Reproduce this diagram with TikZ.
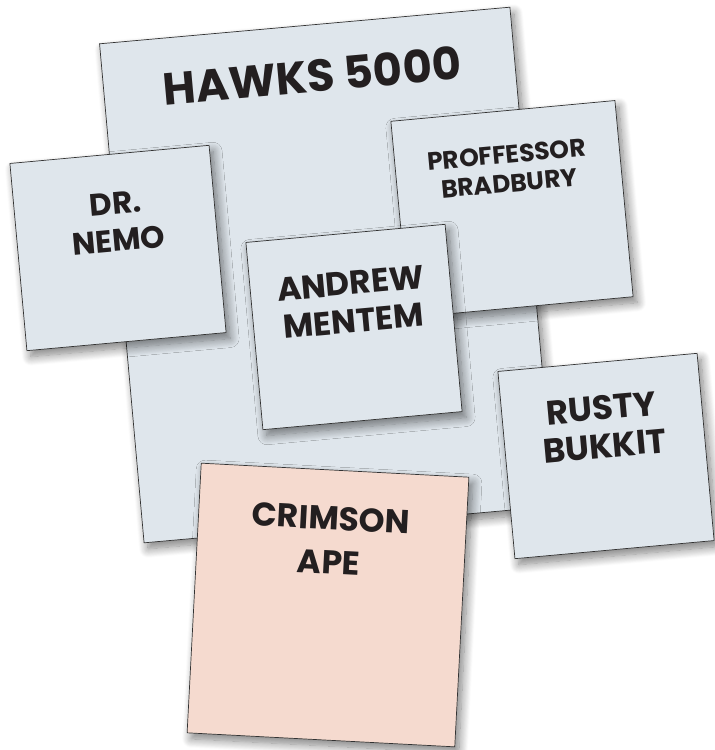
\documentclass[tikz,border=0pt]{standalone}
\usepackage{fontspec}
\setmainfont{Poppins}
\usetikzlibrary{shadows.blur}
\definecolor{sheetblue}{HTML}{DFE6EC}
\definecolor{sheetpink}{HTML}{F5DACF}
\definecolor{sheetline}{HTML}{333333}
\definecolor{ink}{HTML}{231F20}
\tikzset{
  sheet/.style={draw=sheetline, line width=0.7pt, fill=sheetblue, inner sep=0pt,
    blur shadow={shadow xshift=4pt, shadow yshift=-6pt, shadow blur radius=9pt, shadow blur steps=12, shadow opacity=50}},
  pinksheet/.style={sheet, fill=sheetpink},
  lbl/.style={text=ink, align=center, inner sep=0pt, font=\bfseries},
}
\begin{document}
\begin{tikzpicture}[x=1pt,y=-1pt]
\useasboundingbox (0,0) rectangle (715,750);
% sheets
\node[sheet, minimum width=412pt, minimum height=501pt, rotate=5.1] (hawks) at (327,275) {};
\node[sheet, minimum width=200pt, minimum height=188pt, rotate=5.2] (nemo) at (118,248) {};
\node[sheet, minimum width=225pt, minimum height=197pt, rotate=5.3] (prof) at (512,209) {};
\node[sheet, minimum width=200pt, minimum height=188pt, rotate=5.2] (andrew) at (354,327) {};
\node[sheet, minimum width=200pt, minimum height=188pt, rotate=5.2] (rusty) at (606,456) {};
\node[pinksheet, minimum width=268pt, minimum height=270pt, rotate=-3.0] (crimson) at (328,605) {};
% labels
\node[lbl, rotate=5.1, font=\bfseries\fontsize{45}{45}\selectfont] (t-hawks) at (312,76) {HAWKS 5000};
\node[lbl, rotate=5.2, font=\bfseries\fontsize{31}{37}\selectfont] (t-nemo) at (117,222) {DR.\\NEMO};
\node[lbl, rotate=5.3, font=\bfseries\fontsize{25}{29}\selectfont] (t-prof) at (508,169) {PROFFESSOR\\BRADBURY};
\node[lbl, rotate=5.2, font=\bfseries\fontsize{33}{38}\selectfont] (t-andrew) at (352,302) {ANDREW\\MENTEM};
\node[lbl, rotate=5.2, font=\bfseries\fontsize{34}{38}\selectfont] (t-rusty) at (603,427) {RUSTY\\BUKKIT};
\node[lbl, rotate=-3.0, font=\bfseries\fontsize{33}{44}\selectfont] (t-crimson) at (330,540) {CRIMSON\\APE};
\end{tikzpicture}
\end{document}
